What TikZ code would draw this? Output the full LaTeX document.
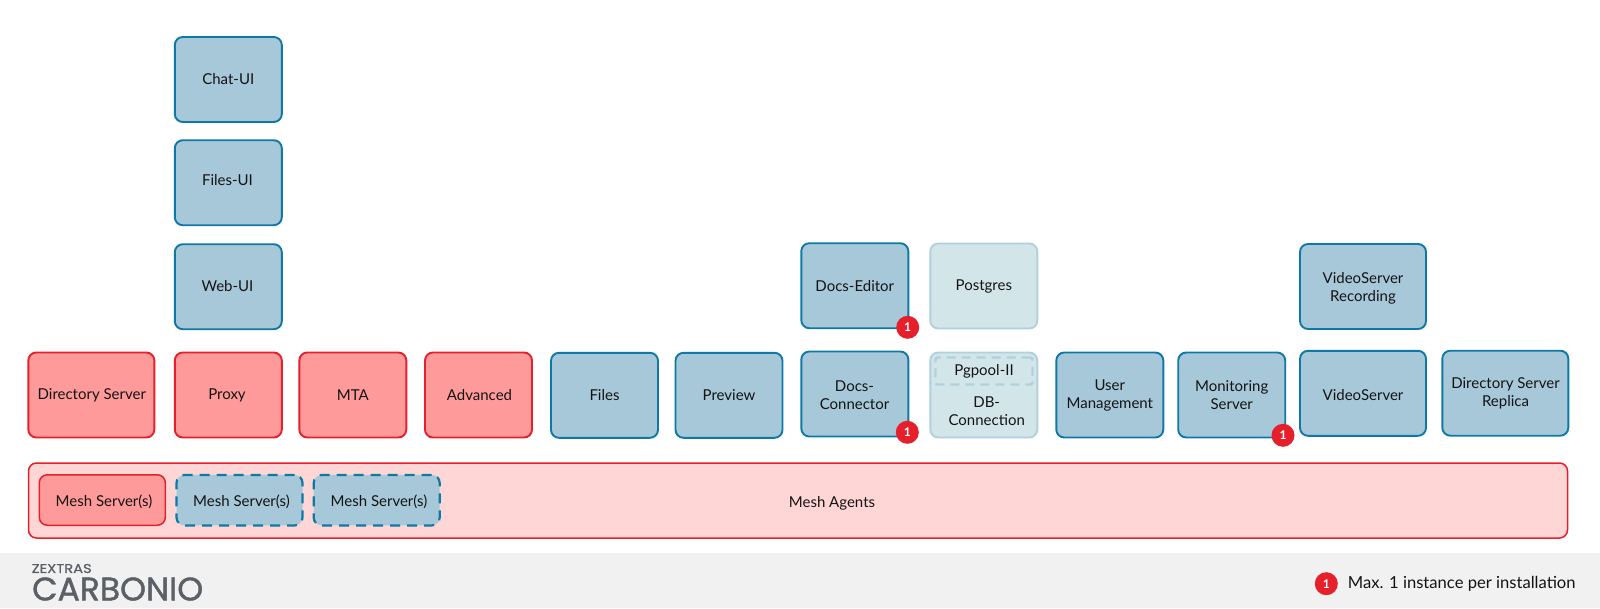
\documentclass[tikz,border=0pt]{standalone}
\usepackage{fontspec}
\usepackage{graphicx}
\setmainfont{Lato}
\newfontfamily\logofont[FakeBold=1.2]{Poppins}
\newfontfamily\logofonttop[FakeBold=0.6]{Poppins}
\definecolor{redline}{HTML}{E6202A}
\definecolor{redfill}{HTML}{FF9A9A}
\definecolor{pinkfill}{HTML}{FFD6D6}
\definecolor{blueline}{HTML}{0F79A6}
\definecolor{bluefill}{HTML}{A6C8D9}
\definecolor{paleline}{HTML}{AFD0DC}
\definecolor{palefill}{HTML}{D2E6EA}
\definecolor{footerfill}{HTML}{F1F1F1}
\definecolor{logogrey}{HTML}{5A6065}
\definecolor{inktext}{HTML}{141414}
\tikzset{
  basebox/.style={rounded corners=8pt,line width=1.9pt,align=center,inner sep=0pt,outer sep=0pt,text=inktext,
    font=\fontsize{15}{18}\selectfont},
  redbox/.style={basebox,draw=redline,fill=redfill},
  bluebox/.style={basebox,draw=blueline,fill=bluefill},
  palebox/.style={basebox,draw=paleline,fill=palefill},
  narrow/.style={minimum width=107pt,minimum height=85pt},
  wide/.style={minimum width=126pt,minimum height=85pt},
  meshbox/.style={minimum width=126pt,minimum height=50.5pt},
  dashbox/.style={dash pattern=on 10pt off 7pt,line width=2.2pt},
  label/.style={font=\fontsize{15}{18}\selectfont,text=inktext,inner sep=0pt,align=center},
  badge/.style={circle,fill=redline,text=white,minimum size=23pt,inner sep=0pt,font=\fontsize{12}{12}\selectfont\bfseries},
}
\begin{document}
\begin{tikzpicture}[x=1pt,y=-1pt]
\useasboundingbox (0,0) rectangle (1600,608);
\fill[white] (0,0) rectangle (1600,608);
\fill[footerfill] (0,553) rectangle (1600,608);
% top column
\node[bluebox,narrow] (chat) at (228.3,79.5) {Chat-UI};
\node[bluebox,narrow] (filesui) at (228.3,182.7) {};
\node[label] (filesuitext) at (227.5,180) {Files-UI};
\node[bluebox,narrow] (webui) at (228.3,286.7) {};
\node[label] (webuitext) at (227.5,285.8) {Web-UI};
% main row
\node[redbox,wide] (dir) at (91.3,395) {\hspace{1pt}Directory Server};
\node[redbox,narrow] (proxy) at (228.3,395) {};
\node[label] (proxytext) at (227,395) {Proxy};
\node[redbox,narrow] (mta) at (352.8,395) {MTA};
\node[redbox,narrow] (adv) at (478.5,395) {\hspace{2pt}Advanced};
\node[bluebox,narrow] (files) at (604.5,395.3) {Files};
\node[bluebox,narrow] (preview) at (729,395.3) {Preview};
\node[bluebox,narrow] (editor) at (854.8,285.7) {Docs-Editor};
\node[bluebox,narrow] (connector) at (854.8,394) {};
\node[label] (connectortext) at (854.5,395.6) {Docs-\\Connector};
\node[palebox,narrow] (postgres) at (983.8,286) {Postgres};
\node[palebox,narrow] (db) at (983.8,395) {};
\node[basebox,draw=paleline,dash pattern=on 9pt off 6pt,line width=2.4pt,minimum width=97pt,minimum height=27pt,rounded corners=2pt] (pgpool) at (984,371) {};
\node[label] (pgpooltext) at (984,371.5) {Pgpool-II};
\node[label] (dblabel) at (986.7,411) {DB-\\Connection};
\node[bluebox,narrow] (user) at (1109.8,395) {};
\node[label] (usertext) at (1109.8,395.6) {User\\Management};
\node[bluebox,narrow] (mon) at (1231.7,395) {Monitoring\\Server};
\node[bluebox,wide] (rec) at (1363,286.5) {};
\node[label] (rectext) at (1363,288.7) {VideoServer\\Recording};
\node[bluebox,wide] (video) at (1363,393.3) {};
\node[label] (videotext) at (1363,395.3) {VideoServer};
\node[bluebox,wide] (replica) at (1505.3,393.2) {};
\node[label] (replicatext) at (1505.5,393.7) {Directory Server\\Replica};
% mesh
\node[basebox,draw=redline,fill=pinkfill,line width=1.5pt,minimum width=1539pt,minimum height=75pt] (agents) at (798,500.5) {};
\node[label] (agentslabel) at (832,503) {Mesh Agents};
\node[redbox,meshbox,line width=1.5pt] (mesh1) at (102.3,500) {};
\node[label] (mesh1text) at (104,501.5) {Mesh Server(s)};
\node[bluebox,meshbox,dashbox] (mesh2) at (239.5,500.2) {};
\node[label] (mesh2text) at (241.5,501.5) {Mesh Server(s)};
\node[bluebox,meshbox,dashbox] (mesh3) at (376.7,500.2) {};
\node[label] (mesh3text) at (379,501.5) {Mesh Server(s)};
% badges
\node[badge] (b1) at (907.7,327.3) {1};
\node[badge] (b2) at (907.3,432.3) {1};
\node[badge] (b3) at (1283,435.3) {1};
\node[badge] (b4) at (1326.3,583.7) {1};
\node[label,anchor=west,font=\fontsize{16.6}{18}\selectfont] (legend) at (1347.7,584) {Max. 1 instance per installation};
% logo
\node[inner sep=0pt,anchor=west,text=logogrey] (zextras) at (31.5,568.5) {\resizebox{60pt}{9pt}{\logofonttop ZEXTRAS}};
\node[inner sep=0pt,anchor=west,text=logogrey] (carbonio) at (32,589) {\resizebox{171pt}{23pt}{\logofont CARBONIO}};
\end{tikzpicture}
\end{document}
